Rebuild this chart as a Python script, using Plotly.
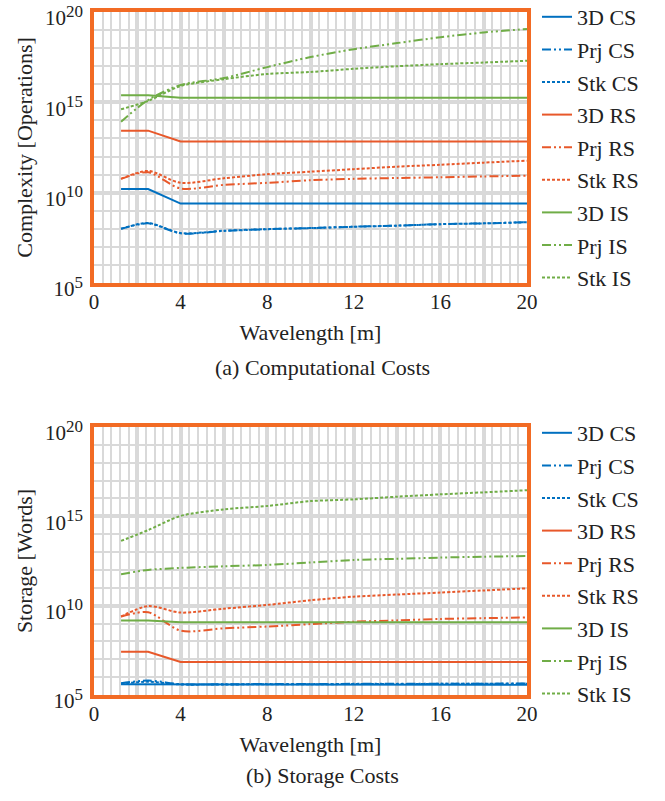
import plotly.graph_objects as go

FONT = "'Liberation Serif', 'Times New Roman', Times, serif"
BLUE = "#0070C0"
RED = "#E8582A"
GREEN = "#70AD47"
BORDER = "#F26B24"
GRID = "#D9D9D9"
TXT = "#222222"

wavelength = [1.25, 2.5, 4, 6, 8, 10, 12, 14, 16, 18, 20]
names = ["3D CS", "Prj CS", "Stk CS", "3D RS", "Prj RS", "Stk RS", "3D IS", "Prj IS", "Stk IS"]

# (a) Computational costs [operations]
comp_3d_cs = [1.6e10, 1.6e10, 2.5e9, 2.5e9, 2.5e9, 2.5e9, 2.5e9, 2.5e9, 2.5e9, 2.5e9, 2.5e9]
comp_prj_cs = [1.0e8, 2.0e8, 5.6e7, 7.6e7, 9.5e7, 1.1e8, 1.3e8, 1.5e8, 1.8e8, 2.0e8, 2.3e8]
comp_stk_cs = [1.0e8, 2.1e8, 5.8e7, 7.8e7, 9.6e7, 1.1e8, 1.3e8, 1.5e8, 1.8e8, 2.0e8, 2.3e8]
comp_3d_rs = [2.7e13, 2.7e13, 6.9e12, 6.9e12, 6.9e12, 6.9e12, 6.9e12, 6.9e12, 6.9e12, 6.9e12, 6.9e12]
comp_prj_rs = [5.8e10, 1.35e11, 1.7e10, 2.7e10, 3.5e10, 4.9e10, 5.8e10, 6.5e10, 7.1e10, 7.9e10, 8.7e10]
comp_stk_rs = [5.8e10, 1.6e11, 3.5e10, 6.3e10, 1.05e11, 1.45e11, 2.0e11, 2.75e11, 3.5e11, 4.6e11, 5.9e11]
comp_3d_is = [2.45e15, 2.45e15, 1.8e15, 1.8e15, 1.8e15, 1.8e15, 1.8e15, 1.8e15, 1.8e15, 1.8e15, 1.8e15]
comp_prj_is = [8.5e13, 1.35e15, 9.1e15, 2.2e16, 8.9e16, 3.2e17, 8.7e17, 1.9e18, 4.0e18, 7.4e18, 1.15e19]
comp_stk_is = [4.1e14, 1.2e15, 7.9e15, 1.9e16, 3.7e16, 4.8e16, 7.2e16, 1.0e17, 1.3e17, 1.6e17, 2.0e17]

# (b) Storage costs [words]
stor_3d_cs = [4.0e5, 4.0e5, 3.7e5, 3.7e5, 3.7e5, 3.7e5, 3.7e5, 3.7e5, 3.7e5, 3.7e5, 3.7e5]
stor_prj_cs = [4.5e5, 6.5e5, 4.0e5, 4.0e5, 4.1e5, 4.1e5, 4.2e5, 4.2e5, 4.3e5, 4.3e5, 4.4e5]
stor_stk_cs = [4.3e5, 5.5e5, 3.9e5, 3.9e5, 4.0e5, 4.0e5, 4.1e5, 4.1e5, 4.2e5, 4.2e5, 4.2e5]
stor_3d_rs = [2.6e7, 2.6e7, 7.1e6, 7.1e6, 7.1e6, 7.1e6, 7.1e6, 7.1e6, 7.1e6, 7.1e6, 7.1e6]
stor_prj_rs = [2.45e9, 4.3e9, 4.0e8, 5.4e8, 6.8e8, 9.3e8, 1.26e9, 1.5e9, 1.8e9, 2.0e9, 2.2e9]
stor_stk_rs = [2.45e9, 9.5e9, 4.1e9, 6.8e9, 1.1e10, 2.0e10, 3.2e10, 4.2e10, 5.4e10, 7.1e10, 9.3e10]
stor_3d_is = [1.5e9, 1.5e9, 1.17e9, 1.17e9, 1.17e9, 1.17e9, 1.17e9, 1.17e9, 1.17e9, 1.17e9, 1.17e9]
stor_prj_is = [5.8e11, 1.0e12, 1.3e12, 1.6e12, 1.9e12, 2.6e12, 3.6e12, 4.2e12, 4.9e12, 5.5e12, 6.0e12]
stor_stk_is = [4.2e13, 1.7e14, 1.05e15, 2.45e15, 3.8e15, 7.1e15, 8.9e15, 1.26e16, 1.7e16, 2.2e16, 2.9e16]

x_tickvals = [0, 2, 4, 6, 8, 10, 12, 14, 16, 18, 20]
x_ticktext = ["0", "", "4", "", "8", "", "12", "", "16", "", "20"]
y_tickvals = [1e5, 1e10, 1e15, 1e20]
y_exponents = ["5", "10", "15", "20"]
y_minor_vals = [10.0 ** k for k in range(5, 21)]

colors = [BLUE, BLUE, BLUE, RED, RED, RED, GREEN, GREEN, GREEN]
PRJ_DASH = "9px,3px,2px,3px,2px,3px"
STK_DASH = "3px,2px"
dashes = ["solid", PRJ_DASH, STK_DASH] * 3

comp_series = [comp_3d_cs, comp_prj_cs, comp_stk_cs, comp_3d_rs, comp_prj_rs,
               comp_stk_rs, comp_3d_is, comp_prj_is, comp_stk_is]
stor_series = [stor_3d_cs, stor_prj_cs, stor_stk_cs, stor_3d_rs, stor_prj_rs,
               stor_stk_rs, stor_3d_is, stor_prj_is, stor_stk_is]

W, H = 665, 801

def px_x(p):
    return p / W

def px_y(p):
    return 1 - p / H

y_ticktext = [f"10<sup><span style='font-size:17px'>{e}</span></sup>" for e in y_exponents]

fig = go.Figure()

for panel, series, xa, ya, leg in [(0, comp_series, "x", "y", "legend"),
                                   (1, stor_series, "x2", "y2", "legend2")]:
    for i, (nm, vals) in enumerate(zip(names, series)):
        solid = dashes[i] == "solid"
        line = dict(color=colors[i], width=2, dash=dashes[i],
                    shape="linear" if solid else "spline")
        if not solid:
            line["smoothing"] = 0.8
        fig.add_trace(go.Scatter(
            x=wavelength, y=vals, name=nm, mode="lines",
            xaxis=xa, yaxis=ya, legend=leg,
            legendgroup=f"{panel}-{i}", line=line,
        ))

x_dom = [px_x(94), px_x(527)]
top_dom = [px_y(283), px_y(12)]
bot_dom = [px_y(695), px_y(427)]

def xaxis_cfg(domain, anchor):
    return dict(
        domain=domain, anchor=anchor, range=[0, 20],
        tickmode="array", tickvals=x_tickvals, ticktext=x_ticktext,
        showgrid=True, gridcolor=GRID, gridwidth=4,
        minor=dict(tick0=0, dtick=0.4, showgrid=True, gridcolor=GRID, gridwidth=2),
        showline=True, linecolor=BORDER, linewidth=3.5, mirror=True,
        zeroline=False, ticks="", ticklabelstandoff=-3,
        ticklabeloverflow="allow",
        tickfont=dict(family=FONT, size=21, color=TXT),
        title=dict(text="Wavelength [m]", font=dict(family=FONT, size=22, color=TXT), standoff=13),
    )

def yaxis_cfg(domain, anchor, title):
    return dict(
        domain=domain, anchor=anchor, type="log", range=[5, 20],
        tickmode="array", tickvals=y_tickvals, ticktext=y_ticktext,
        showgrid=True, gridcolor=GRID, gridwidth=4,
        minor=dict(tickmode="array", tickvals=y_minor_vals, showgrid=True, gridcolor=GRID, gridwidth=2),
        showline=True, linecolor=BORDER, linewidth=3.5, mirror=True,
        zeroline=False, ticks="", ticklabelstandoff=3, ticklabelshift=6,
        ticklabeloverflow="allow",
        tickfont=dict(family=FONT, size=21, color=TXT),
        title=dict(text=title, font=dict(family=FONT, size=22, color=TXT), standoff=7),
    )

legend_common = dict(
    font=dict(family=FONT, size=22, color=TXT),
    bgcolor="rgba(0,0,0,0)", borderwidth=0,
    tracegroupgap=1, itemwidth=30,
    xanchor="left", yanchor="top",
)

fig.update_layout(
    width=W, height=H,
    margin=dict(l=0, r=0, t=0, b=0, autoexpand=False),
    paper_bgcolor="white", plot_bgcolor="white",
    showlegend=True,
    font=dict(family=FONT, color=TXT),
    xaxis=xaxis_cfg(x_dom, "y"),
    yaxis=yaxis_cfg(top_dom, "x", "Complexity [Operations]"),
    xaxis2=xaxis_cfg(x_dom, "y2"),
    yaxis2=yaxis_cfg(bot_dom, "x2", "Storage [Words]"),
    legend=dict(x=px_x(537), y=px_y(-4), **legend_common),
    legend2=dict(x=px_x(537), y=px_y(412), **legend_common),
    annotations=[
        dict(text="(a) Computational Costs", x=px_x(322), y=px_y(367),
             xref="paper", yref="paper", xanchor="center", yanchor="middle",
             showarrow=False, font=dict(family=FONT, size=22, color=TXT)),
        dict(text="(b) Storage Costs", x=px_x(322), y=px_y(775),
             xref="paper", yref="paper", xanchor="center", yanchor="middle",
             showarrow=False, font=dict(family=FONT, size=22, color=TXT)),
    ],
)

fig.write_html("out.html", config={"displayModeBar": False},
               post_script="document.body.style.margin='0px';")
